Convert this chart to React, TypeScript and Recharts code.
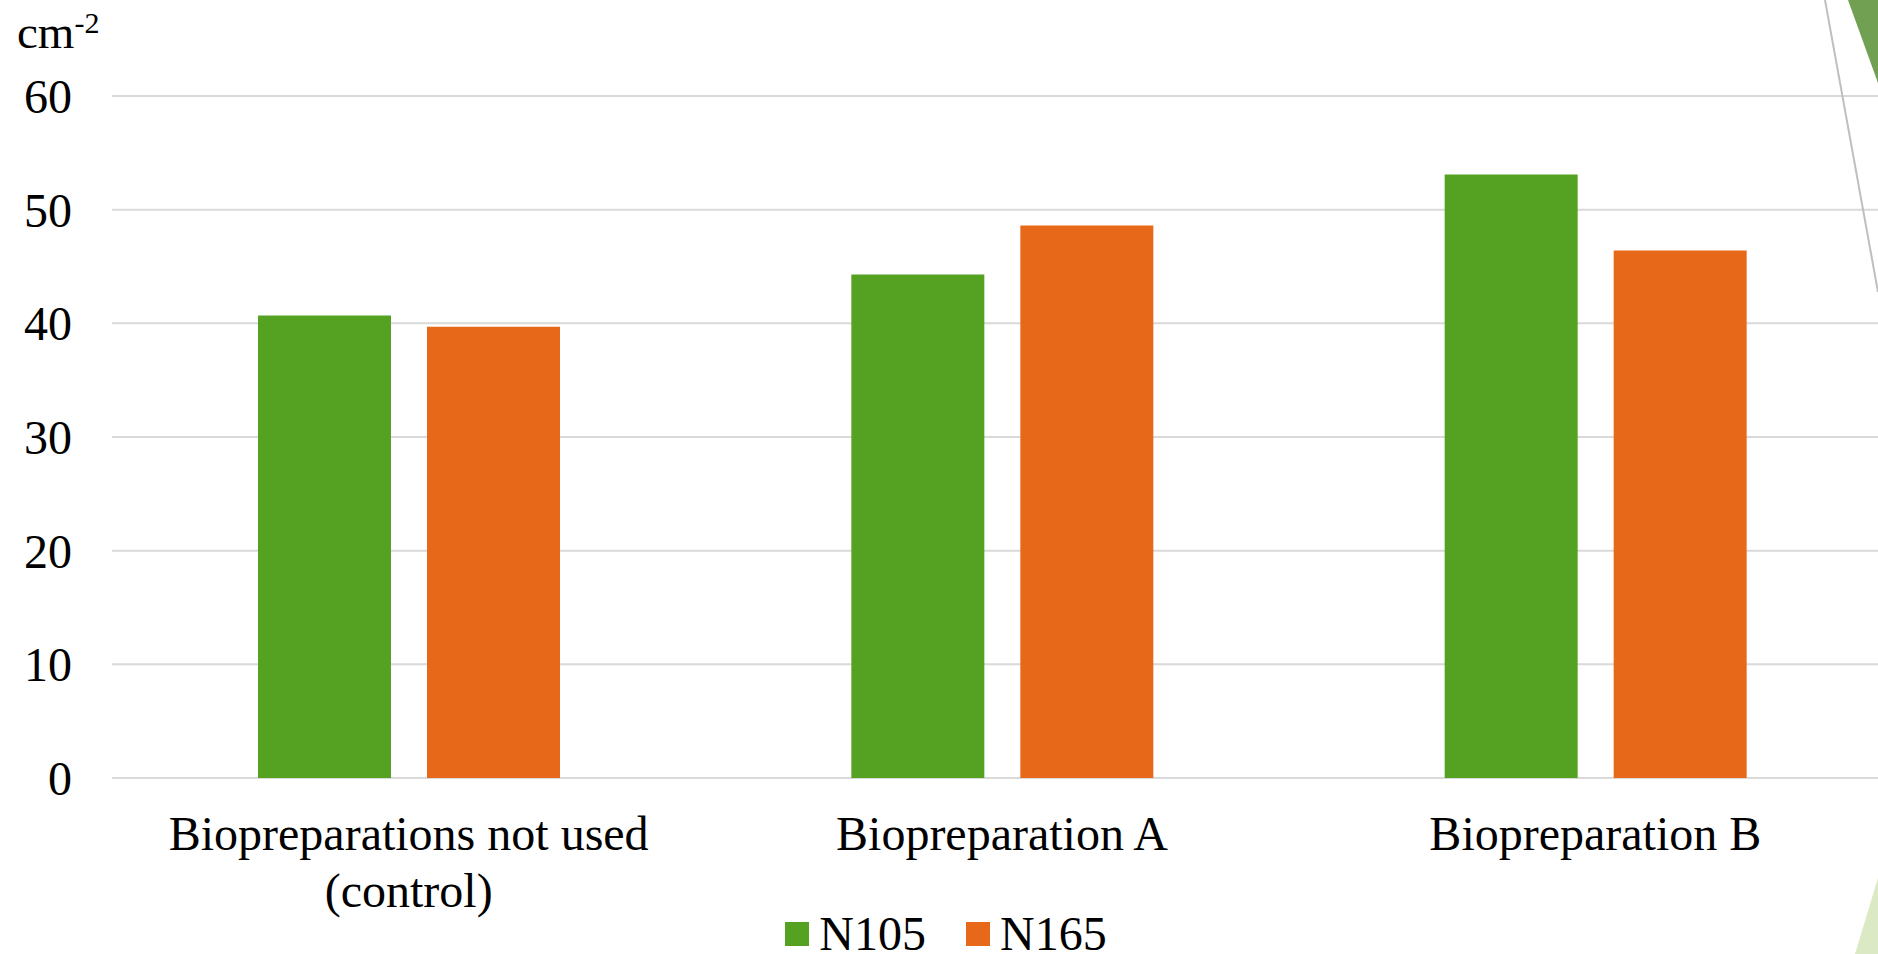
import { BarChart, Bar, XAxis, YAxis, CartesianGrid, Legend } from "recharts";

const categories = [
  "Biopreparations not used\n(control)",
  "Biopreparation A",
  "Biopreparation B",
];
const n105 = [40.7, 44.3, 53.1];
const n165 = [39.7, 48.6, 46.4];
const yTicks = [0, 10, 20, 30, 40, 50, 60];

const data = categories.map((name, i) => ({
  name,
  N105: n105[i],
  N165: n165[i],
}));

const FONT = '"Liberation Serif", "Times New Roman", serif';
const GREEN = "#55a223";
const ORANGE = "#e8681a";

function CategoryTick(props: any) {
  const { x, y, payload } = props;
  const lines = String(payload.value).split("\n");
  return (
    <text
      x={x}
      y={y}
      textAnchor="middle"
      fill="#000"
      fontFamily={FONT}
      fontSize={48}
    >
      {lines.map((line, i) => (
        <tspan key={i} x={x} dy={i === 0 ? 64 : 57}>
          {line}
        </tspan>
      ))}
    </text>
  );
}

function LegendContent(props: any) {
  const items = props.payload || [];
  return (
    <div
      style={{
        display: "flex",
        justifyContent: "center",
        alignItems: "center",
        fontFamily: FONT,
        fontSize: 48,
        lineHeight: "47px",
        color: "#000",
      }}
    >
      {items.map((it: any, i: number) => (
        <div
          key={i}
          style={{
            display: "flex",
            alignItems: "center",
            marginLeft: i === 0 ? 0 : 40,
          }}
        >
          <span
            style={{
              width: 24,
              height: 24,
              background: it.color,
              marginRight: 10,
              display: "inline-block",
            }}
          />
          <span>{it.value}</span>
        </div>
      ))}
    </div>
  );
}

export default function App() {
  return (
    <div
      style={{
        position: "fixed",
        left: 0,
        top: 0,
        width: 1878,
        height: 954,
        overflow: "hidden",
        background: "#fff",
      }}
    >
      <BarChart
        width={1892}
        height={954}
        data={data}
        margin={{ top: 96, right: 0, bottom: 0, left: 0 }}
        barSize={133}
        barGap={36}
      >
        <CartesianGrid
          horizontal
          vertical={false}
          stroke="#d9d9d9"
          strokeWidth={2}
        />
        <XAxis
          dataKey="name"
          height={176}
          axisLine={false}
          tickLine={false}
          interval={0}
          tick={<CategoryTick />}
        />
        <YAxis
          width={112}
          domain={[0, 60]}
          ticks={yTicks}
          axisLine={false}
          tickLine={false}
          tickSize={0}
          tickMargin={40}
          tick={{ fill: "#000", fontSize: 48, fontFamily: FONT }}
        />
        <Legend
          verticalAlign="middle"
          align="center"
          layout="horizontal"
          wrapperStyle={{ top: 910, left: 0, width: 1892 }}
          content={<LegendContent />}
        />
        <Bar dataKey="N105" name="N105" fill={GREEN} isAnimationActive={false} />
        <Bar dataKey="N165" name="N165" fill={ORANGE} isAnimationActive={false} />
      </BarChart>
      <svg
        width={1878}
        height={954}
        style={{ position: "absolute", left: 0, top: 0, pointerEvents: "none" }}
      >
        <text x={17} y={48} fontFamily={FONT} fontSize={47} fill="#000">
          cm
          <tspan fontSize={30} dy={-15}>
            -2
          </tspan>
        </text>
        <line x1={1825} y1={0} x2={1878} y2={292} stroke="#bfbfbf" strokeWidth={2} />
        <polygon points="1848,0 1878,0 1878,83" fill="#71a052" />
        <polygon points="1878,878 1878,954 1855,954" fill="#dbe9c4" />
      </svg>
    </div>
  );
}
